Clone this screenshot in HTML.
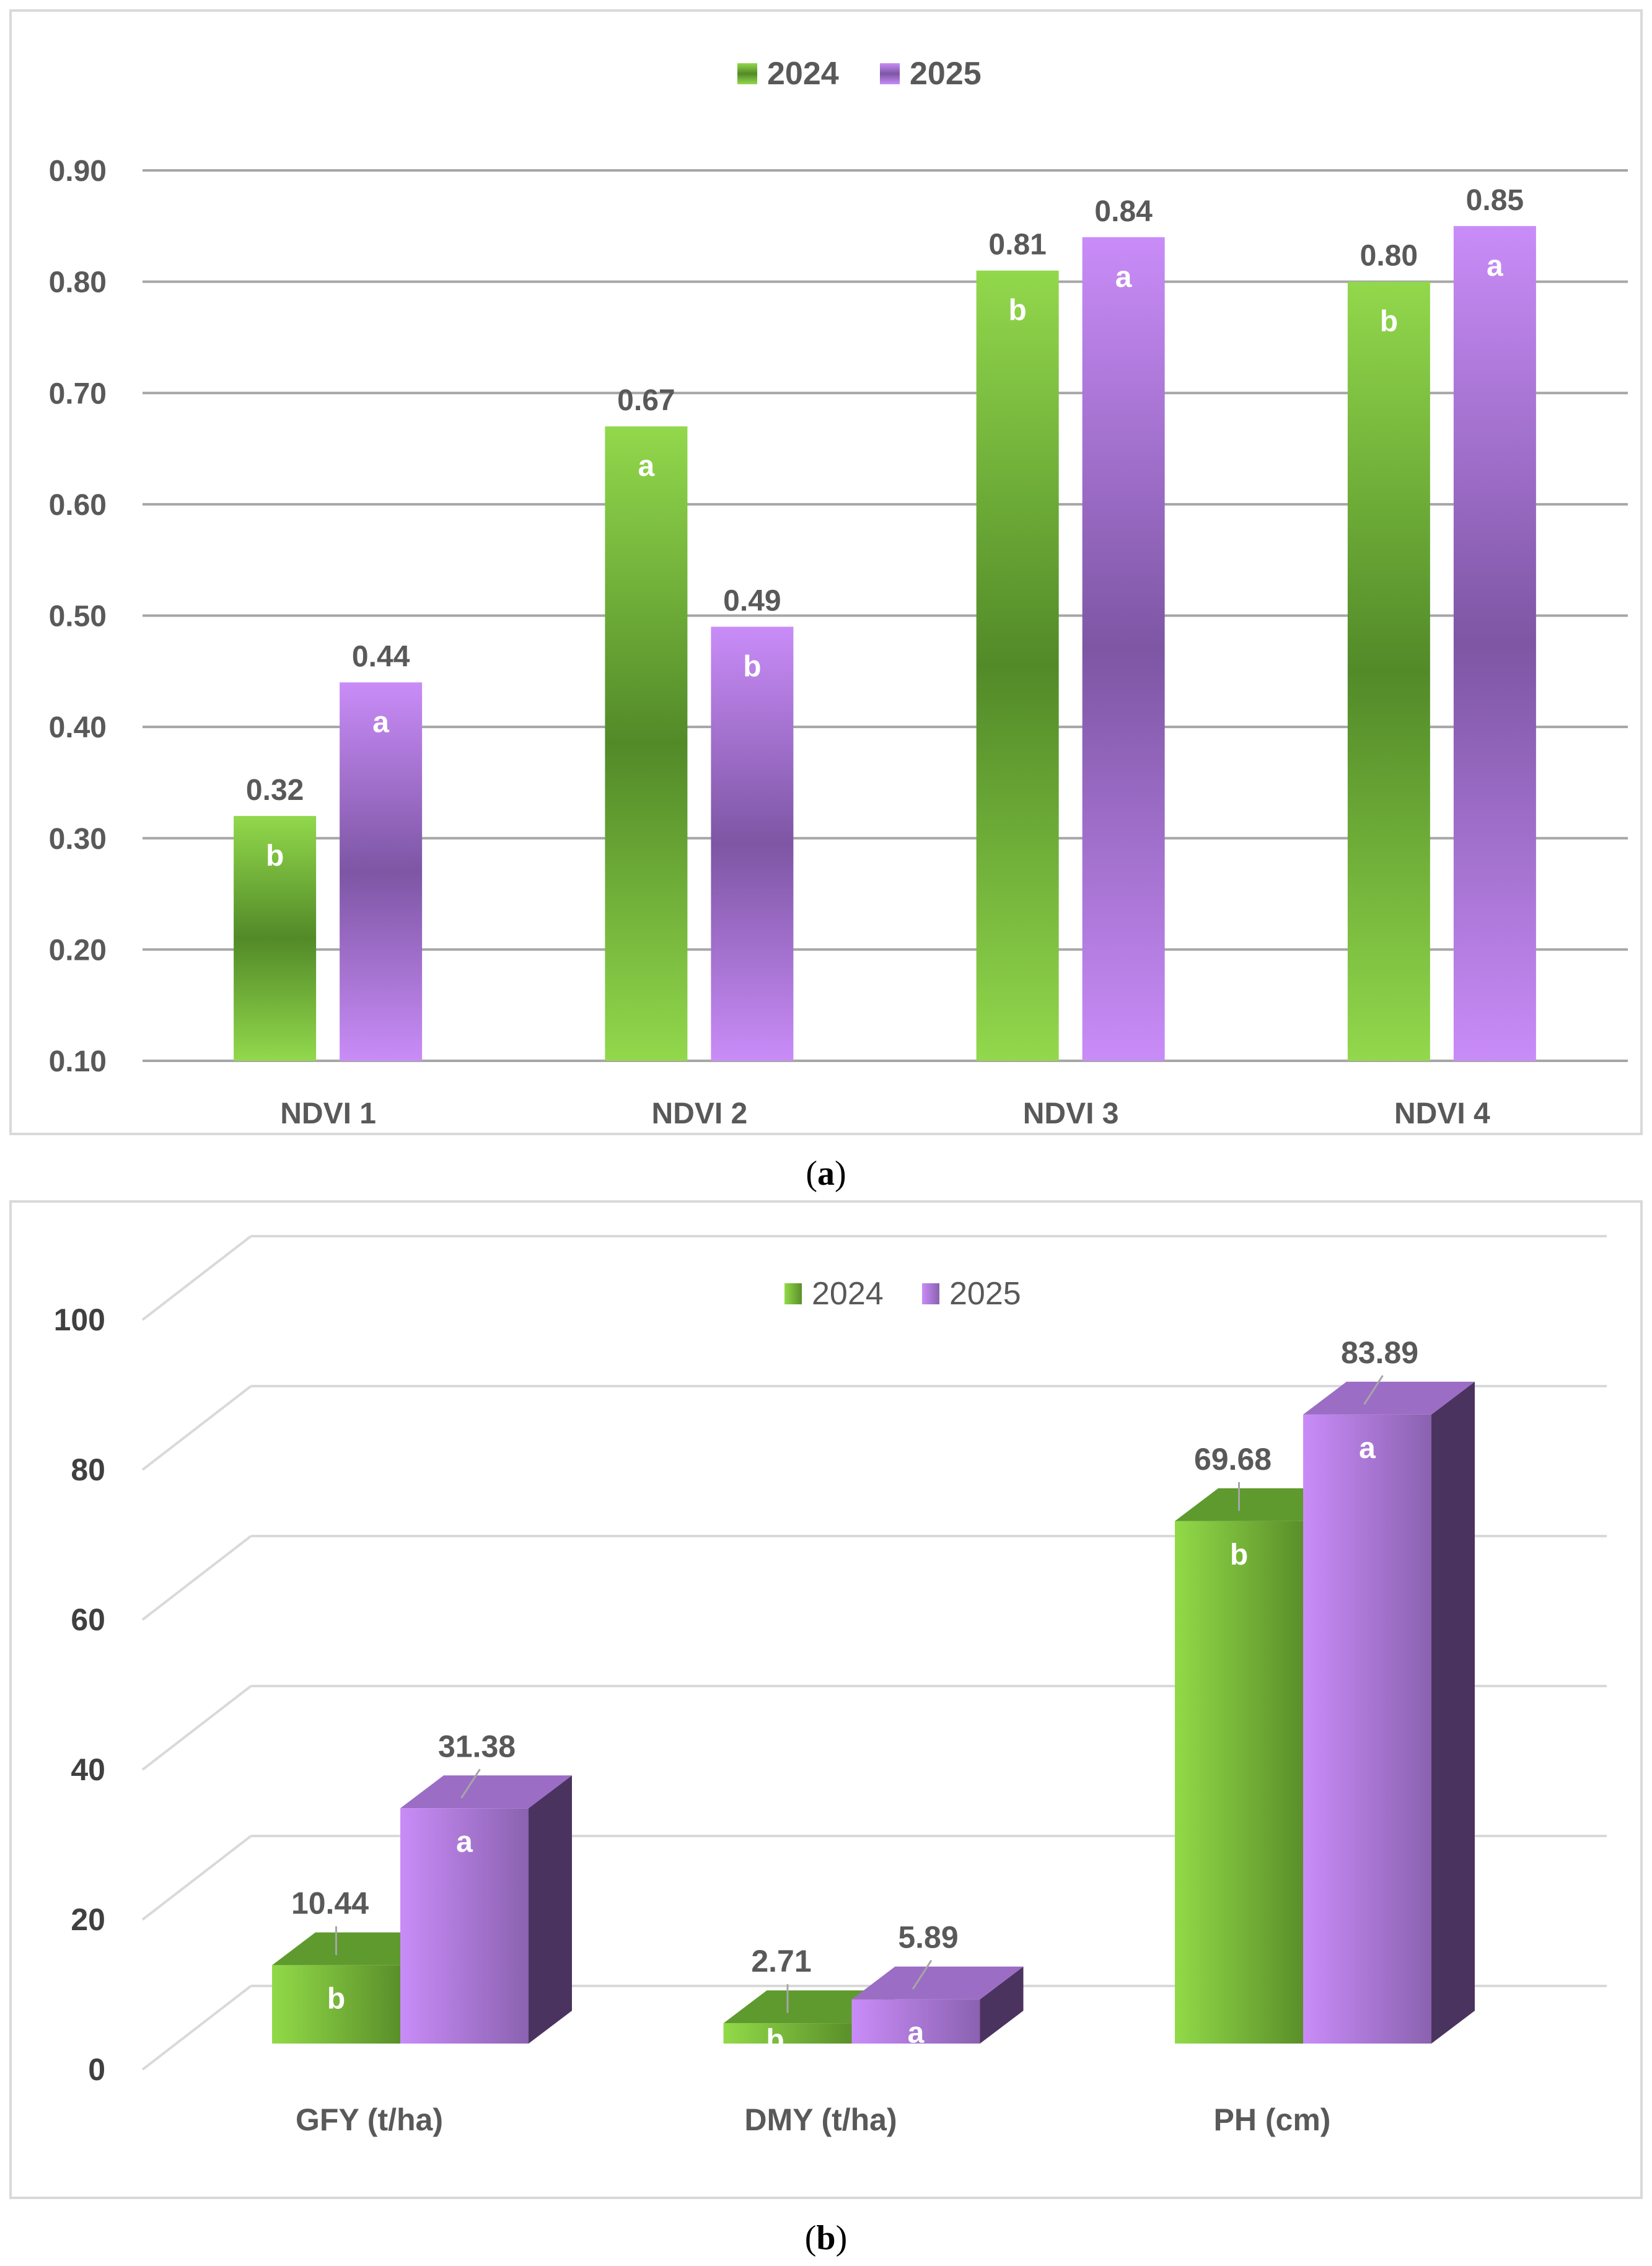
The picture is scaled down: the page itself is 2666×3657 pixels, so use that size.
<!DOCTYPE html>
<html><head><meta charset="utf-8"><style>
html,body{margin:0;padding:0;background:#fff;}
svg{display:block;font-family:"Liberation Sans",Arial,sans-serif;}
</style></head><body>
<svg id="s" width="2666" height="3657" viewBox="0 0 2666 3657" xmlns="http://www.w3.org/2000/svg">
<defs>
<linearGradient id="ga" x1="0" y1="0" x2="0" y2="1"><stop offset="0" stop-color="#92d84c"/><stop offset="0.5" stop-color="#528a28"/><stop offset="1" stop-color="#92d84c"/></linearGradient>
<linearGradient id="pa" x1="0" y1="0" x2="0" y2="1"><stop offset="0" stop-color="#c98cf8"/><stop offset="0.5" stop-color="#7d56a4"/><stop offset="1" stop-color="#c98cf8"/></linearGradient>
<linearGradient id="gb" x1="0" y1="0" x2="1" y2="0"><stop offset="0" stop-color="#92da48"/><stop offset="1" stop-color="#5a8f2a"/></linearGradient>
<linearGradient id="pb" x1="0" y1="0" x2="1" y2="0"><stop offset="0" stop-color="#c98cf8"/><stop offset="1" stop-color="#8a62b0"/></linearGradient>
</defs>
<rect x="17" y="17" width="2632" height="1813" fill="#fff" stroke="#d9d9d9" stroke-width="4"/>
<rect x="17" y="1939" width="2632" height="1608" fill="#fff" stroke="#d9d9d9" stroke-width="4"/>
<text x="1333" y="1912" font-family="Liberation Serif,serif" font-size="56" text-anchor="middle" fill="#000">(<tspan font-weight="bold">a</tspan>)</text>
<text x="1333" y="3630" font-family="Liberation Serif,serif" font-size="56" text-anchor="middle" fill="#000">(<tspan font-weight="bold">b</tspan>)</text>
<g id="ca"></g><g id="cb"></g>
</svg>
<script>
const NS="http://www.w3.org/2000/svg";
// Chart A data
const catsA=["NDVI 1","NDVI 2","NDVI 3","NDVI 4"];
const v2024A=[0.32,0.67,0.81,0.80];
const v2025A=[0.44,0.49,0.84,0.85];
const let2024A=["b","a","b","b"];
const let2025A=["a","b","a","a"];
const ticksA=[0.10,0.20,0.30,0.40,0.50,0.60,0.70,0.80,0.90];
// Chart B data
const catsB=["GFY (t/ha)","DMY (t/ha)","PH (cm)"];
const v2024B=[10.44,2.71,69.68];
const v2025B=[31.38,5.89,83.89];
const let2024B=["b","b","b"];
const let2025B=["a","a","a"];
const ticksB=[0,20,40,60,80,100];

function el(p,t,a,txt){const e=document.createElementNS(NS,t);for(const k in a)e.setAttribute(k,a[k]);if(txt!==undefined)e.textContent=txt;p.appendChild(e);return e;}
const ga=document.getElementById('ca'), gb=document.getElementById('cb');

// ---- Chart A
const yA=v=>1712-(v-0.10)/0.80*(1712-275);
const xA0=230,xA1=2627,cw=(xA1-xA0)/catsA.length;
ticksA.forEach(t=>{
 let l=el(ga,'line',{x1:xA0,x2:xA1,y1:yA(t),y2:yA(t),stroke:'#a6a6a6','stroke-width':4});
 
 let tx=el(ga,'text',{x:172,y:yA(t)+17,'text-anchor':'end','font-size':48,'font-weight':'bold',fill:'#595959'},t.toFixed(2));
 
});
const bwA=133;
catsA.forEach((c,i)=>{
 const cx=xA0+cw*(i+0.5);
 [[v2024A[i],'url(#ga)',-86,let2024A[i],'2024'],[v2025A[i],'url(#pa)',85,let2025A[i],'2025']].forEach(([v,f,off,lt,yr])=>{
  const x=cx+off-bwA/2, y=yA(v);
  let r=el(ga,'rect',{x:x,y:y,width:bwA,height:yA(0.10)-y,fill:f});
  
  let t=el(ga,'text',{x:cx+off,y:y-26,'text-anchor':'middle','font-size':48,'font-weight':'bold',fill:'#595959'},v.toFixed(2));
  
  let s=el(ga,'text',{x:cx+off,y:y+80,'text-anchor':'middle','font-size':48,'font-weight':'bold',fill:'#fff'},lt);
  
 });
 let xl=el(ga,'text',{x:cx,y:1813,'text-anchor':'middle','font-size':48,'font-weight':'bold',fill:'#595959'},c);
 
});
[[1190,'url(#ga)','2024'],[1420,'url(#pa)','2025']].forEach(([x,f,t])=>{
 let r=el(ga,'rect',{x:x,y:102,width:32,height:34,fill:f});
 
 let tx=el(ga,'text',{x:x+48,y:136,'font-size':52,'font-weight':'bold',fill:'#595959'},t);
 
});

// ---- Chart B
const yF=v=>3340-v*12.1;          // front axis
const dxB=175,dyB=-135;
ticksB.forEach(t=>{
 const y=yF(t);
 let d=el(gb,'line',{x1:230,y1:y,x2:230+dxB,y2:y+dyB,stroke:'#d9d9d9','stroke-width':4});
 
 let l=el(gb,'line',{x1:230+dxB,x2:2593,y1:y+dyB,y2:y+dyB,stroke:'#d9d9d9','stroke-width':4});
 
 let tx=el(gb,'text',{x:170,y:y+17,'text-anchor':'end','font-size':50,'font-weight':'bold',fill:'#404040'},String(t));
 
});
const base=3298, sc=12.1, bw=207, ox=70, oy=-53, gap=728.5;
catsB.forEach((c,i)=>{
 const mid=646+gap*i;
 [[v2024B[i],'gb','#5f9a2e','#3f6a1c',-bw,let2024B[i],'2024'],[v2025B[i],'pb','#9b6dc4','#4b335f',0,let2025B[i],'2025']].forEach(([v,g,top,side,off,lt,yr])=>{
  const x=mid+off, y=base-v*sc;
  let sd=el(gb,'polygon',{points:`${x+bw},${y} ${x+bw+ox},${y+oy} ${x+bw+ox},${base+oy} ${x+bw},${base}`,fill:side});
  
  let tp=el(gb,'polygon',{points:`${x},${y} ${x+ox},${y+oy} ${x+bw+ox},${y+oy} ${x+bw},${y}`,fill:top});
  
  let r=el(gb,'rect',{x:x,y:y,width:bw,height:base-y,fill:'url(#'+g+')'});
  
  const lx=x+bw/2+ (off<0?-10:20);
  let ln=el(gb,'line',{x1:x+bw/2+(off<0?0:-5),y1:y+oy/2+10,x2:x+bw/2+(off<0?0:25),y2:y+oy-10,stroke:'#a6a6a6','stroke-width':3});
  
  let t=el(gb,'text',{x:lx,y:y+oy-30,'text-anchor':'middle','font-size':50,'font-weight':'bold',fill:'#595959'},v.toFixed(2));
  
  let s=el(gb,'text',{x:x+bw/2-(v<5?20:0),y:Math.min(y+70,base+10),'text-anchor':'middle','font-size':48,'font-weight':'bold',fill:'#fff'},lt);
  
 });
 let xl=el(gb,'text',{x:mid-50,y:3438,'text-anchor':'middle','font-size':50,'font-weight':'bold',fill:'#595959'},c);
 
});
[[1266,'url(#gb)','2024'],[1488,'url(#pb)','2025']].forEach(([x,f,t])=>{
 let r=el(gb,'rect',{x:x,y:2071,width:28,height:34,fill:f});
 
 let tx=el(gb,'text',{x:x+44,y:2105,'font-size':52,fill:'#595959'},t);
 
});
</script>
</body></html>
